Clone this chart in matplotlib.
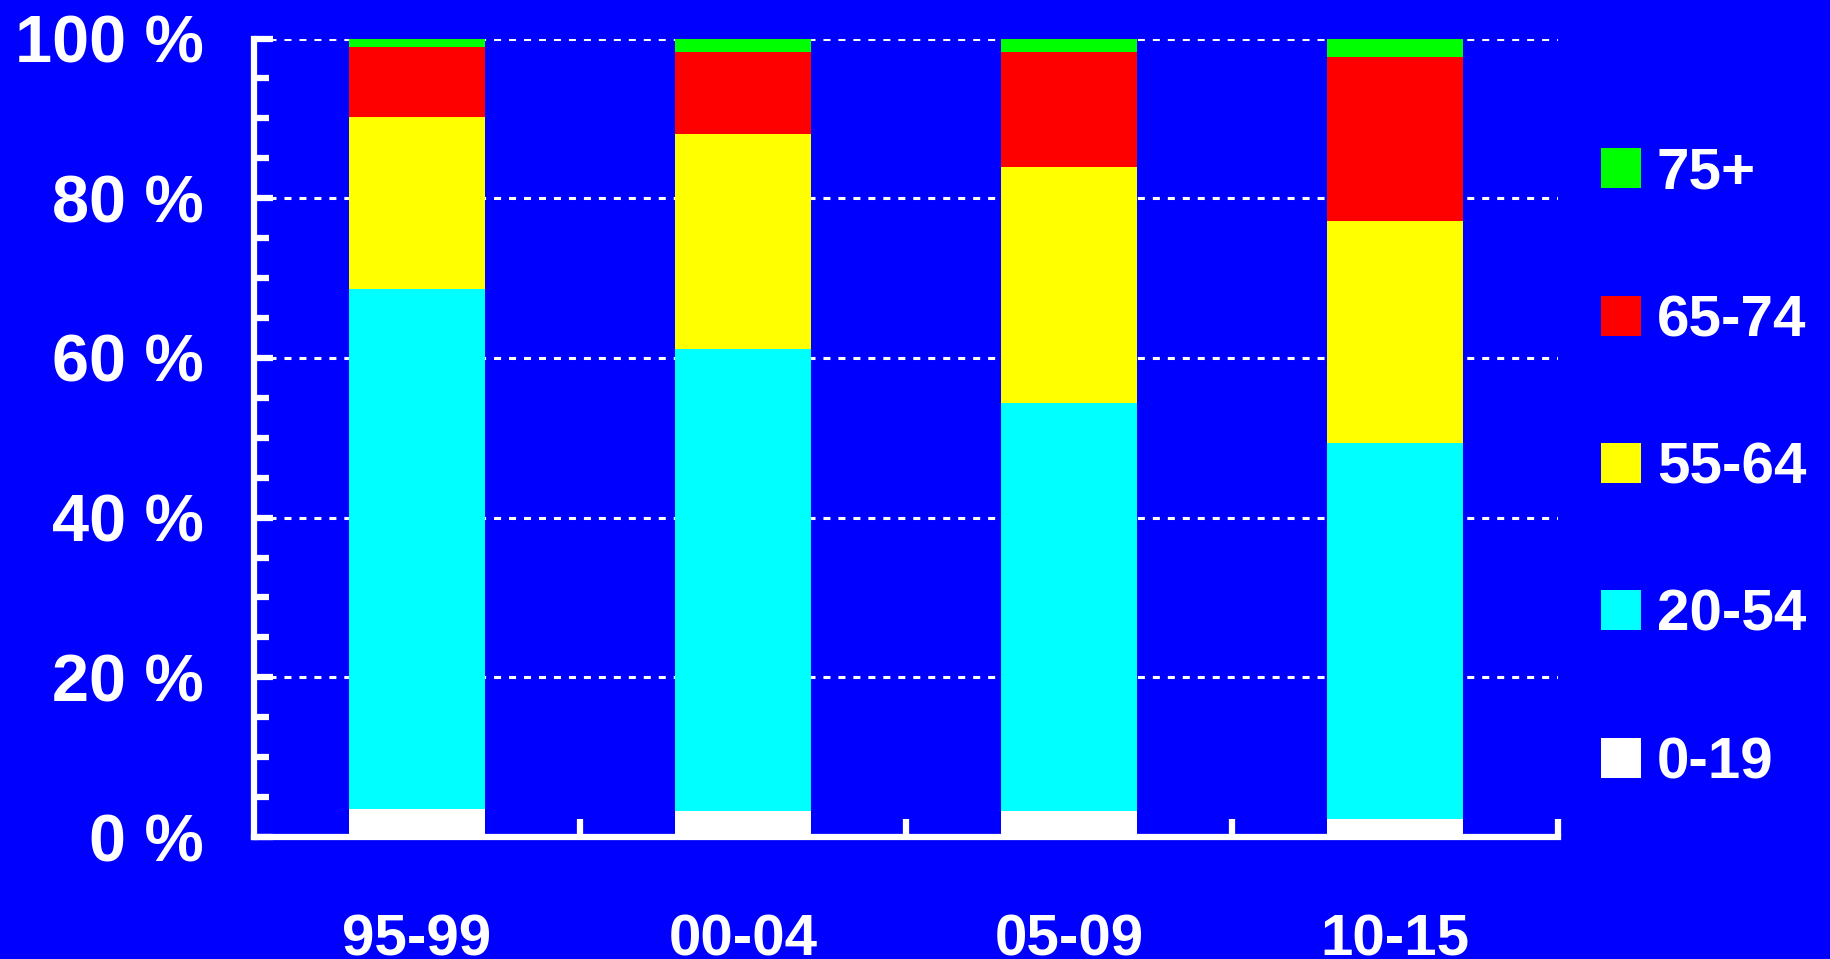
import numpy as np
import matplotlib
matplotlib.use('Agg')
import matplotlib.pyplot as plt
from matplotlib.patches import Patch
from matplotlib.ticker import MultipleLocator, FixedLocator

plt.rcParams['font.family'] = ['Liberation Sans', 'DejaVu Sans']
plt.rcParams['font.weight'] = 'bold'

periods = ['95-99', '00-04', '05-09', '10-15']
age_groups = ['0-19', '20-54', '55-64', '65-74', '75+']
share_0_19 = [3.5, 3.2, 3.2, 2.3]
share_20_54 = [65.1, 57.9, 51.2, 47.1]
share_55_64 = [21.6, 26.9, 29.5, 27.7]
share_65_74 = [8.8, 10.3, 14.4, 20.6]
share_75p = [1.0, 1.7, 1.7, 2.3]

series = [share_0_19, share_20_54, share_55_64, share_65_74, share_75p]
colors = ['#FFFFFF', '#00FFFF', '#FFFF00', '#FF0000', '#00FF00']
bg = '#0000FF'

fig = plt.figure(figsize=(18.3, 9.59), dpi=100, facecolor=bg)
ax = fig.add_axes([0.1388, 0.1272, 0.7126, 0.8326], facecolor=bg)

x = np.arange(len(periods))
bottom = np.zeros(len(periods))
for vals, col, name in zip(series, colors, age_groups):
    ax.bar(x, vals, width=0.415, bottom=bottom, color=col, edgecolor='none',
           label=name, zorder=1)
    bottom += np.array(vals)

ax.set_xlim(-0.5, 3.5)
ax.set_ylim(0, 100)
ax.set_axisbelow(True)

# dotted grid only at 20..100
for yv in [20, 40, 60, 80, 100]:
    ax.axhline(yv, color='white', lw=2.2, ls=(0, (2.3, 2.6)), zorder=0.5)

for s in ['top', 'right']:
    ax.spines[s].set_visible(False)
for s in ['left', 'bottom']:
    ax.spines[s].set_color('white')
    ax.spines[s].set_linewidth(4.5)
    ax.spines[s].set_zorder(3)

ax.yaxis.set_major_locator(MultipleLocator(20))
ax.yaxis.set_minor_locator(MultipleLocator(5))
ax.set_yticklabels([f'{int(v)} %' for v in ax.get_yticks()])
ax.tick_params(axis='y', which='major', direction='in', length=14, width=4.5,
               color='white', labelcolor='white', labelsize=48, pad=36)
ax.tick_params(axis='y', which='minor', direction='in', length=10.5, width=4.5,
               color='white')

ax.set_xticks(x)
ax.set_xticklabels(periods)
ax.xaxis.set_minor_locator(FixedLocator([0.5, 1.5, 2.5, 3.5]))
ax.tick_params(axis='x', which='major', length=0, labelcolor='white',
               labelsize=42, pad=55)
ax.tick_params(axis='x', which='minor', direction='in', length=13, width=4.5,
               color='white')

handles = [Patch(facecolor=c, edgecolor='none', label=n)
           for c, n in zip(colors, age_groups)][::-1]
leg = fig.legend(handles=handles, loc='center left', bbox_to_anchor=(0.8588, 0.5115),
                 frameon=False, fontsize=42, labelcolor='white', borderpad=0,
                 handlelength=0.69, handleheight=0.67, handletextpad=0.27,
                 labelspacing=1.6)

fig.savefig('out.png', dpi=100, facecolor=bg)
